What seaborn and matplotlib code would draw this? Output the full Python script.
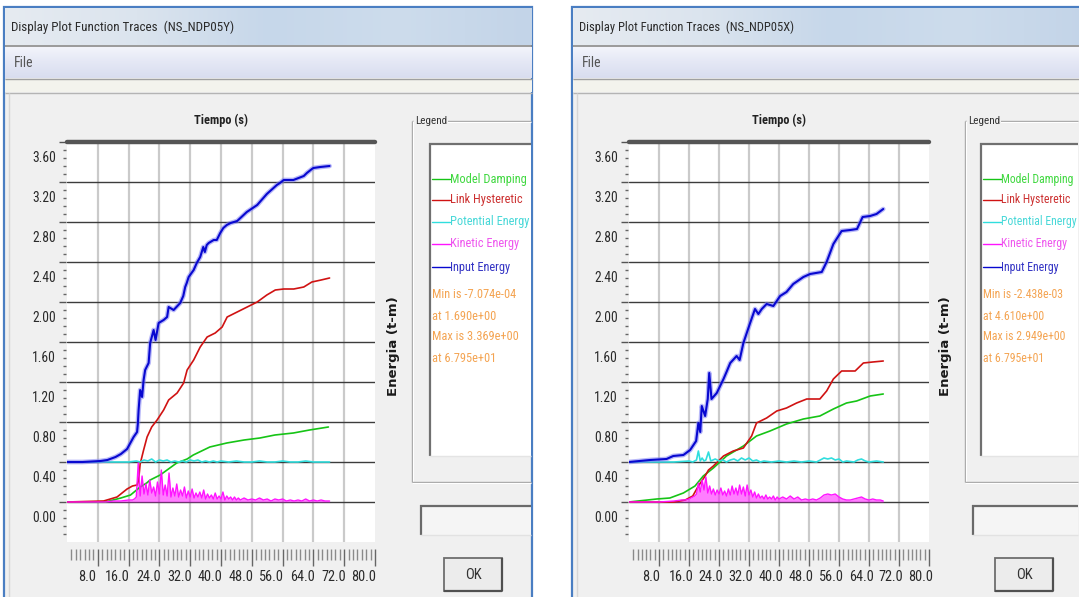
import numpy as np
import pandas as pd
import matplotlib
matplotlib.use("Agg")
import matplotlib.pyplot as plt
import seaborn as sns
from matplotlib import font_manager as fm
from matplotlib.patches import Rectangle
from matplotlib.transforms import ScaledTranslation
from matplotlib.ticker import FixedLocator, FixedFormatter
from matplotlib.colors import LinearSegmentedColormap

# ----------------------------------------------------------------- data
SERIES = ["Model Damping", "Link Hysteretic", "Potential Energy", "Kinetic Energy", "Input Energy"]
LINE_COLORS = ["#16c416", "#d01212", "#30dede", "#ff14ff", "#0808d0"]
TEXT_COLORS = ["#40d840", "#cc3030", "#48d8d8", "#ee55ee", "#3434c4"]

Y_TICKS = [0.0, 0.4, 0.8, 1.2, 1.6, 2.0, 2.4, 2.8, 3.2, 3.6]
X_TICKS = [8.0, 16.0, 24.0, 32.0, 40.0, 48.0, 56.0, 64.0, 72.0, 80.0]

# ---- left window (NS_NDP05Y)
L_TITLE = "Display Plot Function Traces  (NS_NDP05Y)"
L_STATS = ["Min is -7.074e-04", "at 1.690e+00", "Max is 3.369e+00", "at 6.795e+01"]

L_damp_t = [0, 10, 12, 14, 16.5, 19, 20.7, 21.6, 24.2, 28.5, 31.2, 32.8, 37.1, 41.5, 46, 50.1, 54, 58.8, 63, 67.9]
L_damp_v = [0.00, 0.00, 0.02, 0.04, 0.07, 0.15, 0.19, 0.22, 0.27, 0.39, 0.43, 0.47, 0.55, 0.59, 0.62, 0.64, 0.67, 0.69, 0.72, 0.75]

L_link_t = [0, 9.5, 13, 15.6, 17.0, 18.2, 18.6, 19.0, 19.9, 20.8, 22.0, 23.4, 25.1, 26.4, 28.6, 30.3, 31.2, 32.9,
            34.6, 36.4, 38.5, 40.3, 41.6, 44.2, 46.8, 49.4, 51.9, 54.1, 56.3, 58.9, 61.5, 63.6, 66.0, 68.2]
L_link_v = [0.00, 0.01, 0.05, 0.13, 0.16, 0.17, 0.22, 0.38, 0.52, 0.65, 0.75, 0.82, 0.92, 1.02, 1.09, 1.19, 1.32, 1.42,
            1.55, 1.65, 1.69, 1.75, 1.85, 1.90, 1.95, 2.00, 2.07, 2.12, 2.13, 2.13, 2.15, 2.20, 2.22, 2.24]

L_pot_t = [0, 10, 16, 18, 19, 20, 21, 22, 23, 24, 25, 26, 27, 28, 29, 30, 31, 32, 33, 34,
           35, 36, 37, 38, 39, 40, 42, 44, 46, 48, 50, 52, 54, 56, 58, 60, 62, 64, 66, 68.2]
L_pot_v = [0.40, 0.40, 0.40, 0.41, 0.40, 0.42, 0.41, 0.43, 0.40, 0.42, 0.41, 0.42, 0.40, 0.41, 0.40, 0.41, 0.40, 0.42, 0.41, 0.42,
           0.40, 0.41, 0.40, 0.41, 0.40, 0.41, 0.40, 0.41, 0.40, 0.40, 0.41, 0.40, 0.40, 0.41, 0.40, 0.40, 0.41, 0.40, 0.40, 0.40]

L_kin_t = [0, 10, 12, 14, 16, 17, 17.5, 18, 18.5, 19, 19.5, 20, 20.5, 21, 21.5, 22, 22.5, 23, 23.5, 24,
           24.5, 25, 25.5, 26, 26.5, 27, 27.5, 28, 28.5, 29, 29.5, 30, 30.5, 31, 31.5, 32, 32.5, 33, 33.5, 34,
           34.5, 35, 35.5, 36, 36.5, 37, 37.5, 38, 38.5, 39, 39.5, 40, 40.5, 41, 41.5, 42, 42.5, 43, 43.5, 44,
           44.5, 45, 46, 47, 48, 49, 50, 51, 52, 53, 54, 55, 56, 57, 58, 59, 60, 61, 62, 63,
           64, 65, 66, 67, 68.2]
L_kin_v = [0.00, 0.00, 0.01, 0.01, 0.02, 0.02, 0.03, 0.05, 0.39, 0.06, 0.26, 0.08, 0.18, 0.07, 0.22, 0.09, 0.15, 0.06, 0.20, 0.08,
           0.32, 0.07, 0.17, 0.06, 0.29, 0.05, 0.14, 0.06, 0.18, 0.05, 0.12, 0.06, 0.15, 0.04, 0.11, 0.05, 0.13, 0.04, 0.09, 0.05,
           0.10, 0.04, 0.12, 0.03, 0.08, 0.04, 0.07, 0.03, 0.09, 0.03, 0.06, 0.03, 0.10, 0.02, 0.06, 0.03, 0.05, 0.02, 0.05, 0.02,
           0.04, 0.02, 0.04, 0.02, 0.03, 0.02, 0.04, 0.02, 0.03, 0.01, 0.03, 0.02, 0.03, 0.01, 0.02, 0.01, 0.02, 0.01, 0.03, 0.01,
           0.02, 0.01, 0.02, 0.01, 0.01]

L_input_t = [0, 4, 8.7, 10.5, 12.6, 14, 15.6, 17.3, 18.2, 18.4, 18.6, 19.0, 19.5, 19.9, 20.3, 21.2, 21.6, 22.5, 23.0, 23.8,
             25.1, 26.0, 26.4, 27.7, 29.4, 30.2, 30.7, 31.1, 31.6, 32.9, 33.7, 34.6, 35.4, 35.8, 36.3, 36.8, 38.1, 38.9, 39.8, 40.6,
             41.5, 42.5, 44.2, 46.7, 49.4, 51.9, 54.5, 55.3, 56.3, 58.8, 61.5, 62.3, 63.6, 64.0, 65.8, 68.2]
L_input_v = [0.40, 0.40, 0.41, 0.42, 0.45, 0.48, 0.53, 0.65, 0.70, 0.78, 0.92, 1.12, 1.05, 1.22, 1.32, 1.39, 1.59, 1.72, 1.62, 1.79,
             1.82, 1.85, 1.95, 1.92, 1.99, 2.06, 2.15, 2.19, 2.25, 2.32, 2.39, 2.45, 2.55, 2.50, 2.57, 2.59, 2.62, 2.62, 2.69, 2.74,
             2.77, 2.79, 2.81, 2.90, 2.97, 3.08, 3.17, 3.19, 3.22, 3.22, 3.26, 3.29, 3.33, 3.34, 3.35, 3.36]

# ---- right window (NS_NDP05X)
R_TITLE = "Display Plot Function Traces  (NS_NDP05X)"
R_STATS = ["Min is -2.438e-03", "at 4.610e+00", "Max is 2.949e+00", "at 6.795e+01"]

R_damp_t = [0, 7.4, 10.9, 14.5, 17.6, 19.8, 22.5, 26.0, 30.5, 34.0, 37.6, 42.0, 46.5, 50.9, 54.5, 58.0, 60.7, 64.3, 67.8]
R_damp_v = [0.00, 0.03, 0.04, 0.09, 0.16, 0.26, 0.34, 0.46, 0.56, 0.66, 0.71, 0.78, 0.83, 0.86, 0.93, 0.99, 1.01, 1.06, 1.08]

R_link_t = [0, 12, 15, 17, 18.5, 20.3, 21.2, 22.5, 25.2, 27.8, 30.5, 32.7, 34.0, 36.7, 39.4, 42.0, 44.7, 47.4, 50.9, 52.7,
            54.5, 56.7, 60.3, 62.5, 65, 67.8]
R_link_v = [0.00, 0.00, 0.02, 0.06, 0.16, 0.26, 0.32, 0.36, 0.46, 0.51, 0.54, 0.66, 0.79, 0.84, 0.91, 0.94, 0.99, 1.03, 1.03, 1.11,
            1.23, 1.31, 1.31, 1.39, 1.40, 1.41]

R_pot_t = [0, 12, 16, 17, 18, 18.5, 19, 19.5, 20, 20.5, 21.2, 21.8, 23, 24, 25, 26, 27, 28, 29, 30,
           31, 32, 33, 34, 35, 36, 38, 40, 42, 44, 46, 48, 50, 51, 52, 53, 54, 55, 56, 57,
           58, 60, 61, 62, 63, 64, 66, 67.8]
R_pot_v = [0.40, 0.40, 0.41, 0.40, 0.42, 0.51, 0.41, 0.44, 0.41, 0.42, 0.50, 0.41, 0.43, 0.41, 0.42, 0.40, 0.42, 0.43, 0.41, 0.44,
           0.42, 0.44, 0.41, 0.42, 0.40, 0.41, 0.40, 0.41, 0.40, 0.41, 0.40, 0.41, 0.40, 0.42, 0.44, 0.43, 0.44, 0.42, 0.43, 0.40,
           0.41, 0.40, 0.42, 0.43, 0.41, 0.40, 0.41, 0.40]

R_kin_t = [0, 8, 12, 14, 15, 16, 16.5, 17, 17.5, 18, 18.5, 19, 19.5, 20, 20.5, 21, 21.5, 22, 22.5, 23,
           23.5, 24, 24.5, 25, 25.5, 26, 26.5, 27, 27.5, 28, 28.5, 29, 29.5, 30, 30.5, 31, 31.5, 32, 32.5, 33,
           33.5, 34, 34.5, 35, 35.5, 36, 36.5, 37, 37.5, 38, 38.5, 39, 39.5, 40, 41, 42, 43, 44, 45, 46,
           47, 48, 49, 50, 51, 52, 53, 54, 55, 56, 57, 58, 59, 60, 61, 62, 63, 64, 65, 66,
           67, 67.8]
R_kin_v = [0.00, 0.00, 0.01, 0.02, 0.02, 0.03, 0.04, 0.05, 0.06, 0.08, 0.19, 0.10, 0.22, 0.12, 0.25, 0.09, 0.16, 0.08, 0.13, 0.07,
           0.12, 0.08, 0.14, 0.07, 0.11, 0.06, 0.13, 0.07, 0.16, 0.08, 0.14, 0.07, 0.17, 0.08, 0.15, 0.06, 0.17, 0.07, 0.12, 0.05,
           0.10, 0.04, 0.08, 0.04, 0.06, 0.03, 0.07, 0.03, 0.05, 0.03, 0.06, 0.02, 0.05, 0.03, 0.05, 0.03, 0.06, 0.03, 0.05, 0.02,
           0.03, 0.02, 0.03, 0.02, 0.04, 0.07, 0.08, 0.07, 0.08, 0.05, 0.03, 0.02, 0.02, 0.03, 0.04, 0.05, 0.03, 0.02, 0.03, 0.02,
           0.02, 0.01]

R_input_t = [0, 5.6, 10, 11.8, 14.5, 16.3, 17.9, 18.5, 19.0, 19.4, 20.3, 21.0, 21.4, 22.0, 23.4, 24.3, 25.2, 26.0, 27.0, 28.7,
             29.5, 30.5, 32.3, 33.6, 34.5, 35.4, 36.7, 38.5, 40.3, 42.0, 43.8, 46.5, 48.3, 51.4, 52.7, 54.5, 56.7, 59.0, 60.8, 62.3,
             64.3, 66.0, 67.8]
R_input_v = [0.40, 0.42, 0.43, 0.46, 0.47, 0.52, 0.61, 0.79, 0.70, 0.96, 0.86, 1.03, 1.29, 1.03, 1.09, 1.16, 1.23, 1.30, 1.39, 1.46,
             1.42, 1.59, 1.79, 1.93, 1.88, 1.93, 1.98, 1.96, 2.06, 2.10, 2.18, 2.25, 2.28, 2.30, 2.40, 2.58, 2.71, 2.72, 2.73, 2.85,
             2.86, 2.88, 2.93]

# ----------------------------------------------------------------- fonts
sns.set_theme(style="white")


def pick_narrow():
    entries = fm.fontManager.ttflist
    names = {f.name for f in entries}
    for fam in ["Liberation Sans Narrow", "Arial Narrow", "Roboto Condensed", "Open Sans Condensed"]:
        if fam in names:
            return fam, "normal"
    for fam in ["Liberation Sans", "Roboto", "Noto Sans", "Open Sans", "DejaVu Sans"]:
        for f in entries:
            if f.name == fam and str(f.stretch) in ("condensed", "semi-condensed", "extra-condensed", "500", "300", "200"):
                return fam, "condensed"
    return "Liberation Sans", "normal"


NARROW_FAM, NARROW_STRETCH = pick_narrow()
plt.rcParams["font.family"] = [NARROW_FAM, "DejaVu Sans"]
plt.rcParams["font.stretch"] = NARROW_STRETCH

W, H = 1079, 597
fig = plt.figure(figsize=(W / 100, H / 100), dpi=100)
fig.patch.set_facecolor("white")
renderer = fig.canvas.get_renderer()
bg = fig.add_axes([0, 0, 1, 1], zorder=0)
bg.axis("off")


def reset_bg():
    bg.set_xlim(0, W)
    bg.set_ylim(H, 0)


reset_bg()


def fit(t, target, dim="w", maxsize=None):
    """Scale a text's font so its rendered extent matches a target pixel size."""
    bb = t.get_window_extent(renderer)
    cur = bb.width if dim == "w" else bb.height
    if cur > 0:
        new = t.get_fontsize() * target / cur
        if maxsize is not None:
            new = min(new, maxsize)
        t.set_fontsize(new)
    return t


def rect(x0, y0, x1, y1, fc, ec="none", lw=0.0, z=1):
    r = Rectangle((x0, y0), x1 - x0, y1 - y0, facecolor=fc, edgecolor=ec, linewidth=lw, zorder=z)
    bg.add_patch(r)
    return r


def hl(y, x0, x1, c, lw=1.0, z=3):
    bg.plot([x0, x1], [y, y], color=c, lw=lw, zorder=z, solid_capstyle="butt")


def vl(x, y0, y1, c, lw=1.0, z=3):
    bg.plot([x, x], [y0, y1], color=c, lw=lw, zorder=z, solid_capstyle="butt")


title_cmap = LinearSegmentedColormap.from_list("tb", ["#e6ebf1", "#dbe4ee", "#c6d7ea", "#cddcec", "#c3d4e8"])
menu_cmap = LinearSegmentedColormap.from_list("mb", ["#f3f4fb", "#e4e7f5", "#d9ddef"])


def window(xl, xr, title, title_w):
    rect(xl, 7, xr, H + 5, "#f0f0f0", ec="#4a7ec2", lw=1.6, z=0.5)
    bg.imshow(np.linspace(0, 1, 200)[None, :], cmap=title_cmap, extent=(xl + 1, xr, 45, 8),
              aspect="auto", zorder=1)
    reset_bg()
    t = bg.text(xl + 7, 27, title, fontsize=10, color="#2a2a2a", va="center", ha="left", zorder=4)
    fit(t, title_w)
    hl(46, xl + 1, xr, "#8c8c8c", 1.2)
    bg.imshow(np.linspace(0, 1, 50)[:, None], cmap=menu_cmap, extent=(xl + 1, xr, 78, 47),
              aspect="auto", zorder=1)
    reset_bg()
    bg.text(xl + 10, 63, "File", fontsize=10, color="#555555", va="center", ha="left", zorder=4)
    hl(79, xl + 1, xr, "#a0a0a0", 1.0)
    rect(xl + 1, 80, xr, 92, "#f3f3ed", z=1)
    hl(92.5, xl + 1, xr, "#b4b4b4", 1.0)
    vl(xl + 5, 93, H, "#d6d6d6", 1.0)


def legend_panel(gx, ix, ex, tbx, okx, stats):
    # group box
    hl(121, gx, ex, "#a8a8a8", 1.0)
    hl(122, gx, ex, "#ffffff", 0.8)
    vl(gx, 121, 482, "#a8a8a8", 1.0)
    vl(gx + 1, 121, 482, "#ffffff", 0.8)
    hl(482, gx, ex, "#a8a8a8", 1.0)
    hl(483, gx, ex, "#ffffff", 0.8)
    t = bg.text(gx + 3, 121, "Legend", fontsize=9.5, color="#333333", va="center", ha="left", zorder=5,
                bbox=dict(boxstyle="square,pad=0.1", fc="#f0f0f0", ec="none"))
    fit(t, 32)
    # inner white box
    rect(ix, 143, ex, 456, "white", z=2)
    hl(143.5, ix, ex, "#707070", 1.6)
    vl(ix + 0.5, 143, 456, "#707070", 1.6)
    hl(456, ix, ex, "#e4e4e4", 1.0)
    ys = [179, 200, 222, 244, 267]
    entries = []
    for name, lc, tc, y in zip(SERIES, LINE_COLORS, TEXT_COLORS, ys):
        bg.plot([ix + 3, ix + 21], [y, y], color=lc, lw=1.0, zorder=4)
        entries.append(bg.text(ix + 21, y, name, fontsize=10, color=tc, va="center", ha="left", zorder=5))
    for s, y in zip(stats, [295, 316, 337, 358]):
        entries.append(bg.text(ix + 3, y, s, fontsize=10, color="#f4a452", va="center", ha="left", zorder=5))
    # one common font size so that every entry stays inside the white box
    size = 10
    for e in entries:
        bb = e.get_window_extent(renderer)
        avail = (ex - 2) - bg.transData.inverted().transform((bb.x0, 0))[0]
        size = min(size, 10 * avail / max(bb.width, 1))
    for e in entries:
        e.set_fontsize(size)
    # text box
    rect(tbx, 505, ex, 535, "#f5f5f5", z=2)
    hl(505.5, tbx, ex, "#6a6a6a", 1.6)
    vl(tbx + 0.5, 505, 535, "#6a6a6a", 1.6)
    hl(535, tbx, ex, "#e2e2e2", 1.0)
    # OK button
    rect(okx, 558, okx + 58, 591, "#ececec", ec="#6e6e6e", lw=1.3, z=2)
    hl(590.5, okx, okx + 58, "#505050", 1.6)
    vl(okx + 58, 558, 591, "#505050", 1.6)
    bg.text(okx + 29, 575, "OK", fontsize=10.5, color="#333333", va="center", ha="center", zorder=5)


window(4, 532, L_TITLE, 222)
window(572, 1090, R_TITLE, 215)
legend_panel(412, 429, 531, 420, 444, L_STATS)
legend_panel(965, 980, W - 1, 972, 995, R_STATS)
reset_bg()


def panel_axes(x0, y0, x1, y1):
    return fig.add_axes([x0 / W, 1 - y1 / H, (x1 - x0) / W, (y1 - y0) / H], zorder=2)


def draw_panel(ax, data, xlab_shift, ylab_x):
    ax.set_facecolor("white")
    for s in ax.spines.values():
        s.set_visible(False)
    ax.spines["left"].set_position(("outward", 1))
    ax.spines["bottom"].set_position(("outward", 5))
    ax.set_xlim(0, 80)
    ax.set_ylim(-0.4, 3.6)
    for x in X_TICKS[:-1]:
        ax.axvline(x, color="#cacaca", lw=1.6, zorder=1)
    for y in Y_TICKS[:-1]:
        ax.axhline(y, color="#3c3c3c", lw=1.0, zorder=1)
    ax.axhline(Y_TICKS[-1], color="#555555", lw=3.2, zorder=1, clip_on=False)

    # series
    for (name, (t, v)), c in zip(data.items(), LINE_COLORS):
        df = pd.DataFrame({"t": t, "E": v})
        if name == "Kinetic Energy":
            ax.fill_between(df["t"], 0, df["E"], color=c, alpha=0.55, lw=0, zorder=2)
            sns.lineplot(data=df, x="t", y="E", ax=ax, color=c, lw=1.0, estimator=None, sort=False, zorder=3)
        elif name == "Input Energy":
            sns.lineplot(data=df, x="t", y="E", ax=ax, color="#8080f4", lw=3.4, alpha=0.55,
                         estimator=None, sort=False, zorder=3)
            sns.lineplot(data=df, x="t", y="E", ax=ax, color=c, lw=1.5, estimator=None, sort=False, zorder=4)
        else:
            sns.lineplot(data=df, x="t", y="E", ax=ax, color=c, lw=1.2, estimator=None, sort=False, zorder=3)

    # y axis
    ax.yaxis.set_major_locator(FixedLocator(Y_TICKS))
    ax.yaxis.set_major_formatter(FixedFormatter([f"{v:.2f}" for v in Y_TICKS]))
    ax.yaxis.set_minor_locator(FixedLocator([round(-0.32 + 0.08 * i, 2) for i in range(50)]))
    ax.tick_params(axis="y", which="major", left=True, length=5, width=1.0, color="#555555",
                   pad=2, labelsize=11, labelcolor="#2a2a2a")
    ax.tick_params(axis="y", which="minor", left=True, length=2.5, width=1.0, color="#666666")
    # x axis
    ax.xaxis.set_major_locator(FixedLocator(X_TICKS))
    ax.xaxis.set_major_formatter(FixedFormatter([f"{v:.1f}" for v in X_TICKS]))
    ax.xaxis.set_minor_locator(FixedLocator([8.0 * i / 7 for i in range(1, 70)]))
    ax.tick_params(axis="x", which="major", bottom=True, length=12, width=1.0, color="#666666",
                   pad=3, labelsize=11, labelcolor="#2a2a2a")
    ax.tick_params(axis="x", which="minor", bottom=True, length=8, width=1.0, color="#8a8a8a")
    ax.set_xlabel("")

    # size tick labels to the narrow look of the original
    ylab = ax.yaxis.get_majorticklabels()[-1]
    ysz = 11 * 24 / max(ylab.get_window_extent(renderer).width, 1)
    xlab = ax.xaxis.get_majorticklabels()[-1]
    xsz = 11 * 25 / max(xlab.get_window_extent(renderer).width, 1)
    ax.tick_params(axis="y", which="major", labelsize=min(ysz, 12))
    ax.tick_params(axis="x", which="major", labelsize=min(xsz, 12))

    for lab in ax.yaxis.get_majorticklabels():
        lab.set_transform(lab.get_transform() + ScaledTranslation(0, -0.14, fig.dpi_scale_trans))
    for lab in ax.xaxis.get_majorticklabels():
        lab.set_transform(lab.get_transform() + ScaledTranslation(-xlab_shift, 0, fig.dpi_scale_trans))

    ttl = ax.set_title("Tiempo (s)", fontsize=10.5, fontweight="bold", color="#222222", pad=13)
    fit(ttl, 54, maxsize=12)
    ax.yaxis.set_label_position("right")
    ax.set_ylabel("Energia (t-m)", fontsize=9.5, fontweight="bold", color="#1a1a1a",
                  family=["DejaVu Sans"])
    ax.yaxis.set_label_coords(ylab_x, 0.49)
    ax.yaxis.label.set_va("center")
    ax.yaxis.label.set_ha("center")


left_data = {
    "Model Damping": (L_damp_t, L_damp_v),
    "Link Hysteretic": (L_link_t, L_link_v),
    "Potential Energy": (L_pot_t, L_pot_v),
    "Kinetic Energy": (L_kin_t, L_kin_v),
    "Input Energy": (L_input_t, L_input_v),
}
right_data = {
    "Model Damping": (R_damp_t, R_damp_v),
    "Link Hysteretic": (R_link_t, R_link_v),
    "Potential Energy": (R_pot_t, R_pot_v),
    "Kinetic Energy": (R_kin_t, R_kin_v),
    "Input Energy": (R_input_t, R_input_v),
}

axL = panel_axes(67, 142, 375, 542)
draw_panel(axL, left_data, 0.11, 1 + 18 / 308)
axR = panel_axes(629, 142, 929, 542)
draw_panel(axR, right_data, 0.08, 1 + 16 / 300)

fig.savefig("out.png", dpi=100, facecolor="white")
